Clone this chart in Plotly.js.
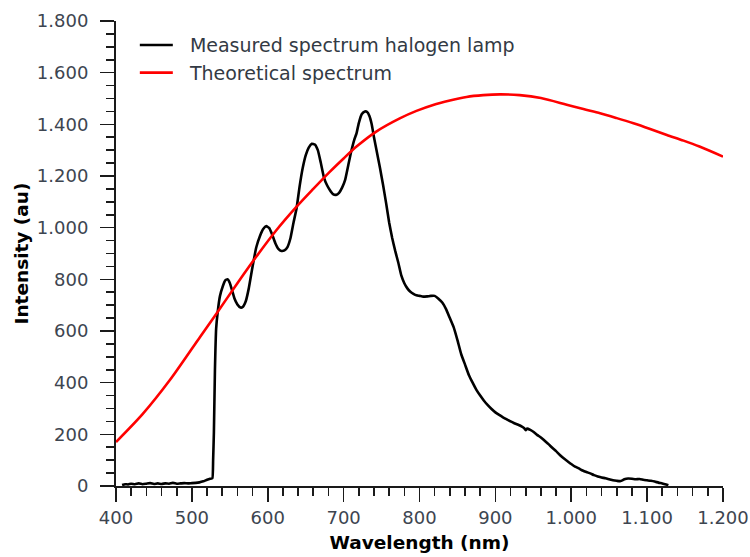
<!DOCTYPE html>
<html>
<head>
<meta charset="utf-8">
<script src="https://cdn.plot.ly/plotly-3.0.1.min.js"></script>
<style>html,body{margin:0;padding:0;background:#fff;}#chart{width:750px;height:557px;}</style>
</head>
<body>
<div id="chart"></div>
<script>
// Theoretical spectrum (red)
const theoryWavelength = [400, 435, 471, 511, 533, 560, 585, 610, 638, 660, 682, 700, 717, 743, 774, 796, 818, 840, 862, 884, 906, 932, 960, 994, 1016, 1038, 1060, 1082, 1104, 1126, 1148, 1169, 1200];
const theoryIntensity = [170, 278, 410, 578, 670, 785, 888, 985, 1081, 1150, 1217, 1268, 1314, 1372, 1423, 1452, 1475, 1492, 1506, 1513, 1516, 1513, 1502, 1476, 1459, 1443, 1424, 1404, 1382, 1359, 1337, 1314, 1275];

// Measured spectrum halogen lamp (black)
const measWavelength = [408, 412, 416, 420, 425, 430, 435, 440, 445, 450, 455, 460, 465, 470, 475, 480, 485, 490, 495, 500, 505, 510, 515, 520, 524, 527, 528, 529, 530.4, 532, 534, 537, 541, 544, 547, 550, 553, 556, 560, 564, 567, 571, 575, 580, 585, 590, 594, 598, 602, 606, 610, 614, 618, 622, 626, 630, 634, 638, 642, 646, 650, 654, 658, 662, 666, 670, 674, 678, 682, 686, 690, 694, 698, 702, 706, 710, 714, 717, 720, 724, 728, 731, 734, 737, 740, 744, 748, 752, 756, 760, 764, 768, 772, 776, 780, 784, 788, 792, 796, 800, 805, 810, 815, 820, 825, 830, 835, 840, 845, 850, 855, 860, 865, 870, 875, 880, 885, 890, 895, 900, 905, 910, 915, 920, 925, 930, 935, 938, 940, 942, 946, 950, 955, 960, 965, 970, 975, 980, 985, 990, 995, 1000, 1005, 1010, 1015, 1020, 1025, 1030, 1035, 1040, 1045, 1050, 1055, 1060, 1065, 1070, 1075, 1080, 1085, 1090, 1095, 1100, 1105, 1110, 1115, 1120, 1125, 1128];
const measIntensity = [4, 7, 6, 9, 7, 10, 7, 9, 11, 8, 10, 8, 10, 9, 12, 9, 10, 11, 10, 11, 12, 14, 18, 24, 28, 30, 100, 205, 449, 610, 672, 735, 775, 796, 800, 786, 757, 727, 703, 691, 693, 715, 765, 850, 925, 970, 995, 1006, 998, 972, 940, 918, 910, 912, 925, 960, 1020, 1075, 1160, 1230, 1280, 1310, 1325, 1322, 1300, 1250, 1195, 1165, 1145, 1130, 1127, 1135, 1155, 1185, 1240, 1295, 1340, 1365, 1405, 1440, 1450, 1448, 1432, 1400, 1350, 1290, 1230, 1165, 1095, 1020, 960, 910, 865, 815, 785, 765, 752, 744, 738, 736, 733, 734, 736, 736, 725, 710, 685, 650, 615, 565, 510, 470, 430, 400, 372, 350, 330, 313, 298, 285, 275, 266, 258, 250, 243, 237, 230, 224, 216, 222, 217, 210, 198, 188, 175, 162, 148, 135, 120, 107, 96, 85, 75, 68, 60, 54, 49, 42, 37, 33, 30, 26, 22, 20, 19, 26, 29, 28, 26, 27, 24, 22, 20, 17, 13, 10, 6, 3];

const seriesNames = ['\u00a0\u00a0Measured spectrum halogen lamp', '\u00a0\u00a0Theoretical spectrum'];
const xTickVals = [400, 500, 600, 700, 800, 900, 1000, 1100, 1200];
const yTickVals = [0, 200, 400, 600, 800, 1000, 1200, 1400, 1600, 1800];

const traces = [
  {x: measWavelength, y: measIntensity, type: 'scatter', mode: 'lines', name: seriesNames[0],
   line: {color: '#000000', width: 2.6, shape: 'spline', smoothing: 0.4}},
  {x: theoryWavelength, y: theoryIntensity, type: 'scatter', mode: 'lines', name: seriesNames[1],
   line: {color: '#ff0000', width: 2.6, shape: 'spline', smoothing: 0.8}}
];

const axisCommon = {
  showline: true, linecolor: '#1a1a1a', linewidth: 2,
  ticks: 'outside', ticklen: 14, tickwidth: 1.6, tickcolor: '#1a1a1a',
  showgrid: false, zeroline: false, separatethousands: true,
  tickfont: {family: 'DejaVu Sans', size: 18, color: '#3d4550'},
  mirror: false
};

const layout = {
  width: 750, height: 557,
  margin: {l: 116, r: 27, t: 21, b: 71},
  paper_bgcolor: '#ffffff', plot_bgcolor: '#ffffff',
  separators: ',.',
  showlegend: true,
  legend: {x: 0.031, y: 0.989, xanchor: 'left', yanchor: 'top', bgcolor: 'rgba(0,0,0,0)',
           font: {family: 'DejaVu Sans', size: 19, color: '#333a44'}, itemwidth: 33, tracegroupgap: 0},
  xaxis: Object.assign({}, axisCommon, {
    range: [400, 1200], tickmode: 'array', tickvals: xTickVals,
    minor: {dtick: 20, tick0: 400, ticks: 'outside', ticklen: 8, tickwidth: 1.6, tickcolor: '#1a1a1a', showgrid: false},
    title: {text: 'Wavelength (nm)', font: {family: 'DejaVu Sans', size: 18.5, color: '#000', weight: 'bold'}, standoff: 9}
  }),
  yaxis: Object.assign({}, axisCommon, {
    range: [0, 1800], tickmode: 'array', tickvals: yTickVals,
    ticklabelstandoff: 8,
    minor: {dtick: 50, tick0: 0, ticks: 'outside', ticklen: 8, tickwidth: 1.6, tickcolor: '#1a1a1a', showgrid: false},
    title: {text: 'Intensity (au)', font: {family: 'DejaVu Sans', size: 18.5, color: '#000', weight: 'bold'}, standoff: 3}
  })
};

Plotly.newPlot('chart', traces, layout, {staticPlot: true, displayModeBar: false});
</script>
</body>
</html>
